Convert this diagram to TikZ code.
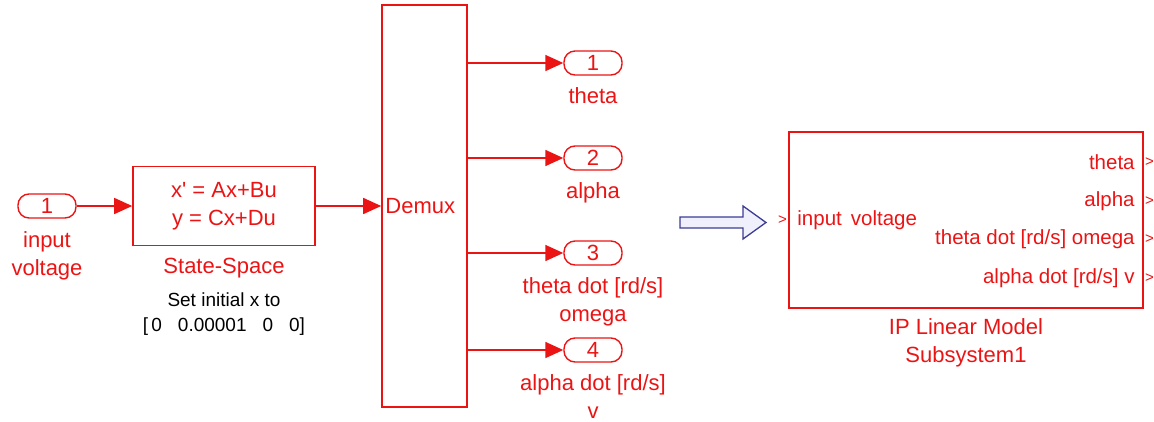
\documentclass[tikz,border=0pt]{standalone}
\usepackage{fontspec}
\setmainfont{Liberation Sans}
\usetikzlibrary{arrows.meta,positioning}
\definecolor{simred}{RGB}{235,20,20}
\definecolor{arrowblue}{RGB}{60,60,150}
\definecolor{arrowfill}{RGB}{240,240,252}

\begin{document}
\begin{tikzpicture}[x=1pt, y=-1pt,
        every node/.style={font=\fontsize{22}{28}\selectfont, text=simred},
        block/.style={draw=simred, line width=1.6pt, inner sep=0pt},
        port/.style={draw=simred, line width=1.4pt, rounded corners=11pt, minimum width=58pt, minimum height=24pt, inner sep=0pt},
        sig/.style={draw=simred, line width=1.6pt, -{Triangle[length=18pt,width=16pt]}},
        lbl/.style={align=center, inner sep=0pt},
        note/.style={font=\fontsize{19}{25}\selectfont, text=black, align=center, inner sep=0pt},
        sublbl/.style={font=\fontsize{20.5}{24}\selectfont, inner sep=0pt},
        chev/.style={font=\fontsize{15}{15}\selectfont, inner sep=0pt}
    ]
    \useasboundingbox (0,0) rectangle (1154,421);

    % Left model
    \node[port] (in1) at (47,206) {1};
    \node[lbl, below=13pt of in1] (in1lbl) {input\\voltage};

    \node[block, minimum width=182pt, minimum height=79pt, align=center] (ss) at (224,206)
        {x\textquotesingle{} = Ax+Bu\\y = Cx+Du};
    \node[lbl, below=12pt of ss] (sslbl) {State-Space};
    \node[note, below=14pt of sslbl] (ssnote) {Set initial x to\\{}[\,0\hspace{16pt}0.00001\hspace{16pt}0\hspace{16pt}0]};

    \node[block, minimum width=85pt, minimum height=402pt] (demux) at (424.5,206) {};
    \node[lbl, anchor=west, xshift=4pt] (demuxlbl) at (demux.west) {Demux};

    % Edges
    \draw[sig] (in1) -- (ss);
    \draw[sig] (ss) -- (demux.west |- ss.east);

    \foreach \i/\y/\txt in {1/63/{theta}, 2/158/{alpha}, 3/253/{theta dot [rd/s]\\omega}, 4/350/{alpha dot [rd/s]\\v}} {
        \node[port] (out\i) at (593,\y) {\i};
        \node[lbl, below=12pt of out\i] (out\i lbl) {\txt};
        \draw[sig] (demux.east |- out\i) -- (out\i);
    }

    % Hollow arrow
    \draw[arrowblue, fill=arrowfill, line width=1.3pt, line join=miter]
        (680,217) -- (743,217) -- (743,206) -- (766,222.5) -- (743,239) -- (743,228) -- (680,228) -- cycle;

    % Subsystem
    \node[block, minimum width=354pt, minimum height=176pt] (sub) at (966,220) {};
    \node[lbl, below=10pt of sub] (sublabel) {IP Linear Model\\Subsystem1};
    \node[chev, anchor=east, xshift=-1pt] (subin) at (sub.west) {>};
    \node[sublbl, anchor=west, xshift=9pt] (subinlbl) at (sub.west) {input\hspace{9pt}voltage};
    \foreach \j/\y/\txt in {1/162/{theta}, 2/201/{alpha}, 3/239/{theta dot [rd/s] omega}, 4/278/{alpha dot [rd/s] v}} {
        \coordinate (p\j) at (sub.east |- 0,\y);
        \node[sublbl, anchor=east, xshift=-9pt] (subout\j) at (p\j) {\txt};
        \node[chev, anchor=west, xshift=1pt] (subchev\j) at (p\j) {>};
    }
\end{tikzpicture}
\end{document}
